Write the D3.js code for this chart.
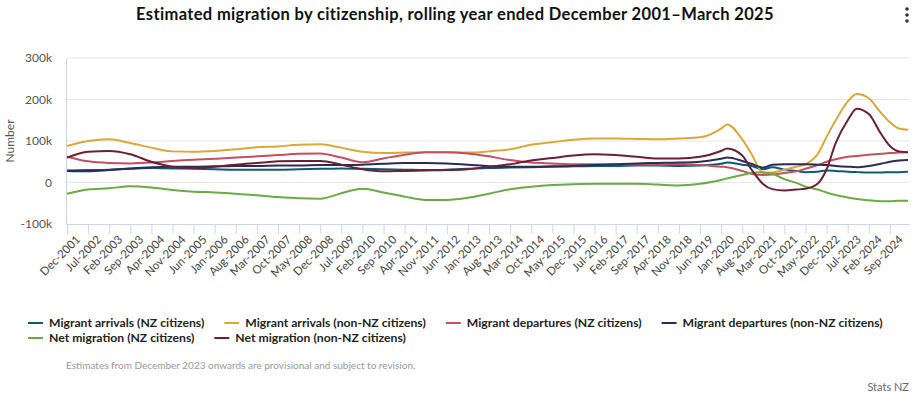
<!DOCTYPE html>
<html>
<head>
<meta charset="utf-8">
<script src="https://cdn.jsdelivr.net/npm/d3@7"></script>
<style>
  body { margin: 0; background: #fff; }
  svg { font-family: Lato, "Open Sans", sans-serif; }
</style>
</head>
<body>
<script>
// months (rolling year ended ...)
var months = ['2001-12','2002-07','2003-02','2003-09','2004-04','2004-11','2005-06','2006-01','2006-08','2007-03',
  '2007-10','2008-05','2008-12','2009-07','2010-02','2010-09','2011-04','2011-11','2012-06','2013-01',
  '2013-08','2014-03','2014-10','2015-05','2015-12','2016-07','2017-02','2017-09','2018-04','2018-11',
  '2019-06','2020-01','2020-03','2020-08','2020-11','2021-03','2021-06','2021-10','2022-02','2022-05',
  '2022-09','2022-12','2023-03','2023-07','2023-10','2024-02','2024-06','2024-09','2024-12','2025-03'];

var arrivalsNZ = [29,30,31,33,35,34,33,32,31,31, 31,32,33,34,33,32,31,30,31,33,
  35,36,37,38,39,40,40,41,41,40, 41,45,48,43,40,32,37,31,28,25, 26,29,28,26,25,24,24,25,25,26];
var arrivalsNonNZ = [88,100,104,95,84,75,74,76,80,85, 87,91,92,84,74,71,72,73,73,72,
  75,80,91,97,103,106,106,105,104,106, 109,130,140,104,70,23,24,31,38,44, 68,110,150,195,213,203,168,145,130,127];
var departuresNZ = [62,51,47,46,48,52,55,57,60,63, 66,69,70,60,49,58,67,73,73,70,
  63,54,48,46,44,44,44,43,43,44, 42,38,37,28,21,18,19,23,27,33, 42,50,56,62,64,67,69,71,72,73];
var departuresNonNZ = [28,27,30,34,37,38,38,39,40,40, 41,41,42,42,43,45,47,47,46,43,
  39,38,38,39,40,42,44,46,47,48, 50,57,60,52,45,36,43,44,44,44, 43,42,40,38,37,40,45,50,53,54];
var netNZ = [-27,-17,-14,-9,-12,-18,-22,-24,-27,-31, -35,-38,-39,-26,-15,-24,-34,-42,-42,-37,
  -27,-16,-10,-6,-4,-3,-3,-3,-5,-7, -3,6,10,18,23,25,21,8,-1,-10, -17,-24,-30,-36,-40,-43,-45,-45,-44,-44];
var netNonNZ = [60,74,76,68,50,38,35,38,43,47, 51,52,52,43,32,27,28,29,30,32,
  38,44,53,59,65,68,66,62,58,58, 62,76,82,65,32,-4,-16,-19,-17,-15, -3,32,95,150,178,165,118,88,75,73];

var seriesNames = ['Migrant arrivals (NZ citizens)','Migrant arrivals (non-NZ citizens)','Migrant departures (NZ citizens)',
  'Migrant departures (non-NZ citizens)','Net migration (NZ citizens)','Net migration (non-NZ citizens)'];
var seriesValues = [arrivalsNZ, arrivalsNonNZ, departuresNZ, departuresNonNZ, netNZ, netNonNZ];
var seriesColors = ['#0e5a70','#d9a83b','#c2505e','#2d2b55','#6aab45','#6a1f36'];
var yTicks = [-100000, 0, 100000, 200000, 300000];
var monthNames = ['Jan','Feb','Mar','Apr','May','Jun','Jul','Aug','Sep','Oct','Nov','Dec'];

var W = 915, H = 397;
var svg = d3.select('body').append('svg').attr('width', W).attr('height', H);

function monthIndex(s) {
  var p = s.split('-');
  return (+p[0] - 2001) * 12 + (+p[1]) - 12;
}
var lastIdx = monthIndex(months[months.length - 1]);

var x = d3.scaleLinear().domain([0, lastIdx]).range([67, 908]);
var y = d3.scaleLinear().domain([-100000, 300000]).range([224, 58]);

// title
svg.append('text').attr('x', 455).attr('y', 20).attr('text-anchor', 'middle')
  .style('font-size', '16.5px').style('font-weight', 700).style('letter-spacing', '0.35px').style('fill', '#111')
  .text('Estimated migration by citizenship, rolling year ended December 2001\u2013March 2025');

// menu dots
[9, 15, 21].forEach(function(cy) {
  svg.append('circle').attr('cx', 907).attr('cy', cy).attr('r', 1.8).style('fill', '#333');
});

// grid
svg.append('g').selectAll('line').data(yTicks.slice(1)).enter().append('line')
  .attr('x1', 66).attr('x2', 910).attr('y1', function(d) { return y(d); }).attr('y2', function(d) { return y(d); })
  .style('stroke', '#e6e6e6').style('stroke-width', 1);

// y axis
var yAxis = svg.append('g').attr('transform', 'translate(66,0)')
  .call(d3.axisLeft(y).tickValues(yTicks).tickSize(0).tickPadding(14)
    .tickFormat(function(d) { return d === 0 ? '0' : (d / 1000) + 'k'; }));
yAxis.select('.domain').style('stroke', '#ccd6eb');
yAxis.selectAll('text').style('font-size', '12px').style('fill', '#555').style('font-family', 'Lato, sans-serif');

svg.append('text').attr('transform', 'translate(14,141) rotate(-90)').attr('text-anchor', 'middle')
  .style('font-size', '12px').style('fill', '#555').text('Number');

// x axis
var xTickVals = d3.range(0, lastIdx + 1, 7);
var xAxis = svg.append('g').attr('transform', 'translate(0,224)')
  .call(d3.axisBottom(x).tickValues(xTickVals).tickSize(10).tickSizeOuter(0)
    .tickFormat(function(m) {
      var t = 11 + m;
      return monthNames[t % 12] + '-' + (2001 + Math.floor(t / 12));
    }));
xAxis.select('.domain').attr('d', 'M66,0.5H910').style('stroke', '#ccd6eb');
xAxis.selectAll('.tick line').style('stroke', '#ccd6eb');
xAxis.selectAll('text').attr('transform', 'rotate(-45)').attr('text-anchor', 'end')
  .attr('dx', '-2px').attr('dy', '8px')
  .style('font-size', '11.5px').style('fill', '#444').style('font-family', 'Lato, sans-serif');

// lines
var line = d3.line()
  .x(function(d) { return x(d.m); })
  .y(function(d) { return y(d.v * 1000); })
  .curve(d3.curveMonotoneX);

seriesValues.forEach(function(vals, i) {
  var pts = vals.map(function(v, j) { return { m: monthIndex(months[j]), v: v }; });
  svg.append('path').datum(pts).attr('d', line)
    .style('fill', 'none').style('stroke', seriesColors[i]).style('stroke-width', 2);
});

// legend
var rows = [[0, 1, 2, 3], [4, 5]];
rows.forEach(function(row, r) {
  var lx = 28, ly = 323 + r * 15;
  row.forEach(function(i) {
    svg.append('line').attr('x1', lx).attr('x2', lx + 15).attr('y1', ly).attr('y2', ly)
      .style('stroke', seriesColors[i]).style('stroke-width', 2);
    var t = svg.append('text').attr('x', lx + 21).attr('y', ly + 4)
      .style('font-size', '12.2px').style('font-weight', 700).style('fill', '#222').text(seriesNames[i]);
    lx += 21 + t.node().getComputedTextLength() + 20;
  });
});

svg.append('text').attr('x', 66).attr('y', 369).style('font-size', '10px').style('fill', '#999')
  .text('Estimates from December 2023 onwards are provisional and subject to revision.');
svg.append('text').attr('x', 909).attr('y', 391).attr('text-anchor', 'end').style('font-size', '11px').style('fill', '#666')
  .text('Stats NZ');
</script>
</body>
</html>
